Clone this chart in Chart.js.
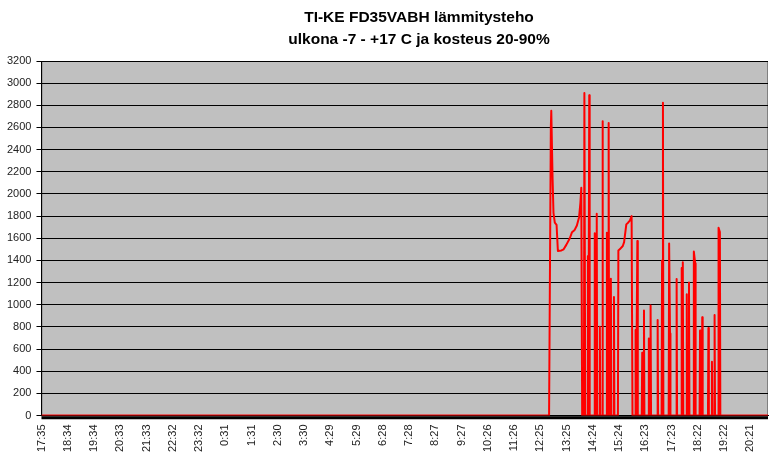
<!DOCTYPE html>
<html>
<head>
<meta charset="utf-8">
<title>TI-KE FD35VABH lämmitysteho</title>
<script src="https://cdn.jsdelivr.net/npm/chart.js@4/dist/chart.umd.min.js"></script>
<style>
  body { margin: 0; background: #fff; }
  #wrap { width: 775px; height: 474px; }
</style>
</head>
<body>
<div id="wrap"><canvas id="heatChart" width="775" height="474"></canvas></div>
<script>
// chart title (two lines)
const titleLines = ['TI-KE FD35VABH lämmitysteho', 'ulkona -7 - +17 C ja kosteus 20-90%'];

// x axis tick labels (clock time), first one = start of the log
const tickLabels = ['17:35', '18:34', '19:34', '20:33', '21:33', '22:32', '23:32', '0:31', '1:31',
    '2:30', '3:30', '4:29', '5:29', '6:28', '7:28', '8:27', '9:27', '10:26', '11:26', '12:25',
    '13:25', '14:24', '15:24', '16:23', '17:23', '18:22', '19:22', '20:21'];

// heating power, minutes since 17:35 and watts
const elapsedMin = [0, 1150, 1154, 1155, 1158, 1160, 1163, 1167, 1170, 1178, 1183, 1189, 1197, 1202, 1208,
    1213, 1218, 1221, 1223, 1225,
    1229, 1230, 1232, 1237, 1238, 1239, 1241, 1242,
    1252, 1253, 1254, 1257, 1258, 1259, 1264, 1265, 1266, 1270, 1271, 1272,
    1280, 1281, 1282, 1284, 1285, 1286, 1289, 1290, 1291, 1296, 1297, 1298,
    1306, 1307, 1310, 1317, 1320, 1325, 1329, 1333, 1337, 1339,
    1345, 1346, 1347, 1349, 1350, 1351, 1360, 1361, 1362, 1364, 1365, 1366,
    1375, 1376, 1377, 1379, 1380, 1381, 1395, 1396, 1397, 1405, 1406, 1408, 1409,
    1421, 1422, 1424, 1425, 1438, 1439, 1440, 1449, 1450, 1451, 1452, 1453, 1454,
    1461, 1462, 1463, 1466, 1467, 1468, 1477, 1478, 1481, 1482,
    1491, 1492, 1493, 1496, 1497, 1498, 1510, 1511, 1512, 1518, 1519, 1520,
    1524, 1525, 1526, 1533, 1534, 1537, 1538, 1646];
const powerW = [0, 0, 2600, 2750, 2130, 1830, 1740, 1720, 1485, 1490, 1500, 1540, 1600, 1655, 1675,
    1715, 1790, 1920, 2055, 0,
    0, 2910, 0, 0, 1440, 0, 2890, 0,
    0, 1645, 0, 0, 1820, 0, 0, 800, 0, 0, 2655, 0,
    0, 1650, 0, 0, 2640, 0, 0, 1235, 0, 0, 1070, 0,
    0, 1490, 1500, 1530, 1565, 1725, 1740, 1760, 1800, 0,
    0, 772, 0, 0, 1574, 0, 0, 566, 0, 0, 947, 0,
    0, 696, 0, 0, 993, 0, 0, 862, 0, 0, 1400, 2823, 0,
    0, 1552, 741, 0, 0, 1232, 0, 0, 1331, 0, 0, 1383, 0,
    0, 1095, 0, 0, 1201, 0, 0, 1480, 1375, 0,
    0, 766, 0, 0, 887, 0, 0, 790, 0, 0, 484, 0,
    0, 908, 0, 0, 1695, 1655, 0, 0];

// second (black) series, lies just under the zero line the whole time
const baseMin = [0, 1646];
const baseW = [-20, -20];

const yMax = 3200;
const yStep = 200;

// label text -> minutes since the first label (wraps past midnight)
function labelMinutes(labels) {
    const out = [];
    const first = labels[0].split(':').map(Number);
    const start = first[0] * 60 + first[1];
    let prev = -1;
    labels.forEach(l => {
        const p = l.split(':').map(Number);
        let m = (p[0] * 60 + p[1] - start + 1440) % 1440;
        while (m < prev) m += 1440;
        out.push(m);
        prev = m;
    });
    return out;
}
const tickMin = labelMinutes(tickLabels);

function toPoints(xs, ys) {
    return xs.map((x, i) => ({ x: x, y: ys[i] }));
}

// grey plot area + thin frame, like the Excel original
const plotArea = {
    id: 'plotArea',
    beforeDraw(chart) {
        const a = chart.chartArea;
        const c = chart.ctx;
        c.save();
        c.fillStyle = '#c0c0c0';
        c.fillRect(a.left, a.top, a.right - a.left, a.bottom - a.top);
        c.strokeStyle = '#808080';
        c.lineWidth = 1;
        c.strokeRect(a.left + 0.5, a.top + 0.5, a.right - a.left - 1, a.bottom - a.top);
        c.restore();
    },
    afterDraw(chart) {
        const c = chart.ctx;
        c.save();
        c.fillStyle = '#000';
        c.font = 'bold 15.5px "Liberation Sans", Arial, sans-serif';
        c.textAlign = 'center';
        c.textBaseline = 'middle';
        c.fillText(titleLines[0], 419, 18);
        c.fillText(titleLines[1], 419, 40);
        c.restore();
    }
};

Chart.defaults.font.family = '"Liberation Sans", Arial, sans-serif';
Chart.defaults.font.size = 11;
Chart.defaults.color = '#222';

var ctx = document.getElementById('heatChart').getContext('2d');
var heatChart = new Chart(ctx, {
    type: 'line',
    data: {
        datasets: [{
            label: 'base',
            data: toPoints(baseMin, baseW),
            borderColor: '#000',
            borderWidth: 3,
            pointRadius: 0,
            clip: false,
            order: 2
        }, {
            label: 'lämmitysteho',
            data: toPoints(elapsedMin, powerW),
            borderColor: '#ff0000',
            borderWidth: 2,
            borderJoinStyle: 'round',
            tension: 0,
            pointRadius: 0,
            order: 1
        }]
    },
    options: {
        responsive: false,
        animation: false,
        layout: { padding: { left: 2, right: 7, top: 61, bottom: 13 } },
        plugins: {
            legend: { display: false },
            tooltip: { enabled: false },
            title: { display: false }
        },
        scales: {
            x: {
                type: 'linear',
                min: 0,
                max: baseMin[baseMin.length - 1],
                afterBuildTicks: axis => {
                    axis.ticks = tickMin.map(v => ({ value: v }));
                },
                grid: { display: false, drawTicks: false },
                border: { display: true, color: '#000', width: 1 },
                ticks: {
                    autoSkip: false,
                    minRotation: 90,
                    maxRotation: 90,
                    padding: 9,
                    color: '#222',
                    callback: (v, i) => tickLabels[i]
                }
            },
            y: {
                min: 0,
                max: yMax,
                grid: { color: '#000', lineWidth: 1, tickLength: 5 },
                border: { display: true, color: '#000', width: 1 },
                ticks: { stepSize: yStep, padding: 5, color: '#222', callback: v => String(v) }
            }
        }
    },
    plugins: [plotArea]
});
</script>
</body>
</html>
